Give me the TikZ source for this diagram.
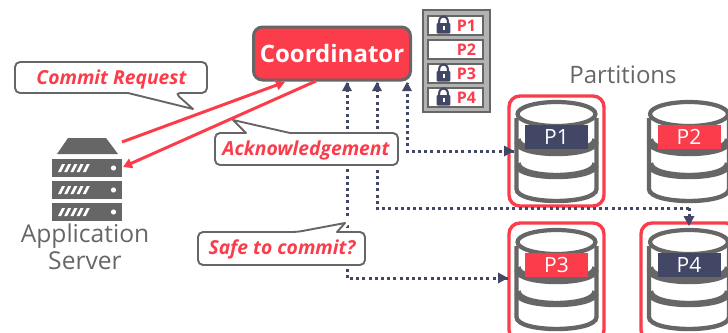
\documentclass[tikz,border=0pt]{standalone}
\usepackage{fontspec}
\setmainfont{Open Sans}
\usetikzlibrary{arrows.meta}
\definecolor{hotred}{HTML}{FB3C4B}
\definecolor{navy}{HTML}{434766}
\definecolor{gry}{HTML}{666666}
\definecolor{tablegry}{HTML}{B2B2B2}
\tikzset{
  x=1pt,y=-1pt,
  dotline/.style={navy,line width=3pt,dash pattern=on 3pt off 3.2pt},
  redarrow/.style={hotred,line width=3pt,-{Triangle[length=9pt,width=10pt]}},
  callout/.style={draw=gry,fill=white,line width=1.9pt,line join=round,preaction={draw=white,line width=7pt}},
  calltext/.style={text=hotred,font=\bfseries\itshape\fontsize{19.3}{21}\selectfont,inner sep=0pt},
  graytext/.style={text=gry,font=\fontsize{24.6}{27}\selectfont,inner sep=0pt},
  lockrow/.style={draw=gry,fill=white,line width=1.8pt,minimum width=55pt,minimum height=19pt,inner sep=0pt},
  lockname/.style={text=hotred,font=\bfseries\fontsize{16}{18}\selectfont,inner sep=0pt},
  partbox/.style={draw=hotred,line width=3.4pt,rounded corners=11pt,minimum width=95pt,inner sep=0pt},
  barbox/.style={fill=gry,minimum width=70pt,minimum height=18pt,inner sep=0pt},
}
\newcommand{\cyltier}[3]{% x, top y, end y of side
  \fill[white] (#1-40,#2) -- (#1-40,#3) .. controls (#1-40,#3+16) and (#1+40,#3+16) .. (#1+40,#3) -- (#1+40,#2) -- cycle;
  \draw[gry,line width=4.4pt] (#1-40,#2) -- (#1-40,#3) .. controls (#1-40,#3+16) and (#1+40,#3+16) .. (#1+40,#3) -- (#1+40,#2);
}
\newcommand{\cylinder}[5]{% x, y, label, colour, name
  \cyltier{#1}{#2+52}{#2+75}
  \cyltier{#1}{#2+28}{#2+51}
  \draw[gry,line width=4.4pt] (#1-38,#2+49) .. controls (#1-38,#2+65) and (#1+38,#2+65) .. (#1+38,#2+49);
  \cyltier{#1}{#2+4}{#2+28}
  \draw[gry,line width=4.4pt] (#1-38,#2+25) .. controls (#1-38,#2+41) and (#1+38,#2+41) .. (#1+38,#2+25);
  \draw[gry,line width=4.2pt,fill=white] (#1,#2) ellipse [x radius=39pt,y radius=12pt];
  \node[fill=#4,text=white,minimum width=63pt,minimum height=24pt,inner sep=0pt,font=\fontsize{21}{23}\selectfont] (#5) at (#1,#2+23) {#3};
}
\newcommand{\lockicon}[2]{% x, y centre
  \draw[navy,line width=2.1pt] (#1-4.4,#2-1) -- (#1-4.4,#2-3) .. controls (#1-4.4,#2-10.5) and (#1+4.4,#2-10.5) .. (#1+4.4,#2-3) -- (#1+4.4,#2-1);
  \fill[navy,rounded corners=1pt] (#1-6.8,#2-2) rectangle (#1+6.8,#2+8.5);
  \fill[white] (#1-1,#2+1) rectangle (#1+1,#2+5);
}
\newcommand{\barslashes}[1]{% y centre
  \foreach \s in {0,1,2,3,4} {
    \fill[white] (58+6.2*\s,#1+4) -- (61+6.2*\s,#1+4) -- (65+6.2*\s,#1-4) -- (62+6.2*\s,#1-4) -- cycle;
  }
  \fill[white] (113.5,#1) circle [radius=2.6pt];
}
\begin{document}
\begin{tikzpicture}
\path[use as bounding box,clip] (0,0) rectangle (728,332);

% coordinator
\node[draw=gry,fill=hotred,line width=3pt,rounded corners=9pt,minimum width=157pt,minimum height=53pt,inner sep=0pt,text=white,font=\bfseries\fontsize{24}{26}\selectfont] (coord) at (332,53.5) {Coordinator};

% lock table
\node[draw=gry,fill=tablegry,line width=2pt,minimum width=67pt,minimum height=102pt,inner sep=0pt] (locks) at (456,61) {};
\node[lockrow] (r1) at (455.5,25.5) {};
\node[lockrow] (r2) at (455.5,49.5) {};
\node[lockrow] (r3) at (455.5,73.5) {};
\node[lockrow] (r4) at (455.5,97.5) {};
\node[lockname] (n1) at (466.5,26) {P1};
\node[lockname] (n2) at (466.5,50) {P2};
\node[lockname] (n3) at (466.5,74) {P3};
\node[lockname] (n4) at (466.5,98) {P4};
\lockicon{443.5}{25}
\lockicon{443.5}{73}
\lockicon{443.5}{97}

% partitions
\node[graytext,font=\fontsize{24}{26}\selectfont] (parts) at (623,75) {Partitions};
\cylinder{556.5}{114}{P1}{navy}{c1}
\cylinder{689}{114}{P2}{hotred}{c2}
\cylinder{556.5}{242}{P3}{hotred}{c3}
\cylinder{689}{242}{P4}{navy}{c4}
\node[partbox,minimum height=110pt] (b1) at (556.5,151) {};
\node[partbox,minimum height=118pt] (b3) at (556.5,282) {};
\node[partbox,minimum width=96pt,minimum height=118pt] (b4) at (689,282) {};

% dotted connectors
\coordinate (a1) at (407,83);
\coordinate (a2) at (377,83);
\coordinate (a3) at (347,83);
\coordinate (t1) at (514,151);
\coordinate (t3) at (508,278);
\coordinate (t4) at (689,226);
\coordinate (k2) at (377,208);
\coordinate (k4) at (689,208);
\draw[dotline] (t1) -| (a1);
\draw[dotline] (k4) -| (a2);
\draw[dotline] (k4) -- (t4);
\draw[dotline] (t3) -| (a3);
\foreach \p in {a1,a2,a3} \fill[navy] (\p) ++(0,-1) -- ++(5,9) -- ++(-10,0) -- cycle;
\fill[navy] (t1) -- ++(-10,-5.5) -- ++(0,11) -- cycle;
\fill[navy] (t3) -- ++(-10,-5.5) -- ++(0,11) -- cycle;
\fill[navy] (t4) -- ++(-5.5,-10) -- ++(11,0) -- cycle;

% callouts
\draw[callout,rounded corners=5pt] (15,62) -- (207,62) -- (207,93) -- (175,93) [sharp corners] -- (193,109) -- (128,93) [rounded corners=5pt] -- (15,93) -- cycle;
\draw[callout,rounded corners=5pt] (215,133) -- (233,133) [sharp corners] -- (246,133) -- (233,120) -- (290,133) [rounded corners=5pt] -- (398,133) -- (398,165) -- (215,165) -- cycle;
\draw[callout,rounded corners=5pt] (198,232) -- (297,232) [sharp corners] -- (345,223) -- (337,232) [rounded corners=5pt] -- (365,232) -- (365,265) -- (198,265) -- cycle;
\node[calltext] (cr) at (111.5,79) {Commit Request};
\node[calltext] (ack) at (306,150) {Acknowledgement};
\node[calltext] (safe) at (282,249) {Safe to commit?};

% server
\fill[gry] (57,154) -- (118,154) -- (106,138) -- (68,138) -- cycle;
\node[barbox] (s1) at (87,168) {};
\node[barbox] (s2) at (87,190) {};
\node[barbox] (s3) at (87,212) {};
\barslashes{168}
\barslashes{190}
\barslashes{212}
\node[graytext] (app) at (85,236.5) {Application};
\node[graytext] (srv) at (85,261) {Server};

% red arrows
\coordinate (sv1) at (122,142);
\coordinate (sv2) at (123,167);
\coordinate (co1) at (285,82);
\coordinate (co2) at (316,81);
\draw[redarrow] (sv1) -- (co1);
\draw[redarrow] (co2) -- (sv2);
\end{tikzpicture}
\end{document}
